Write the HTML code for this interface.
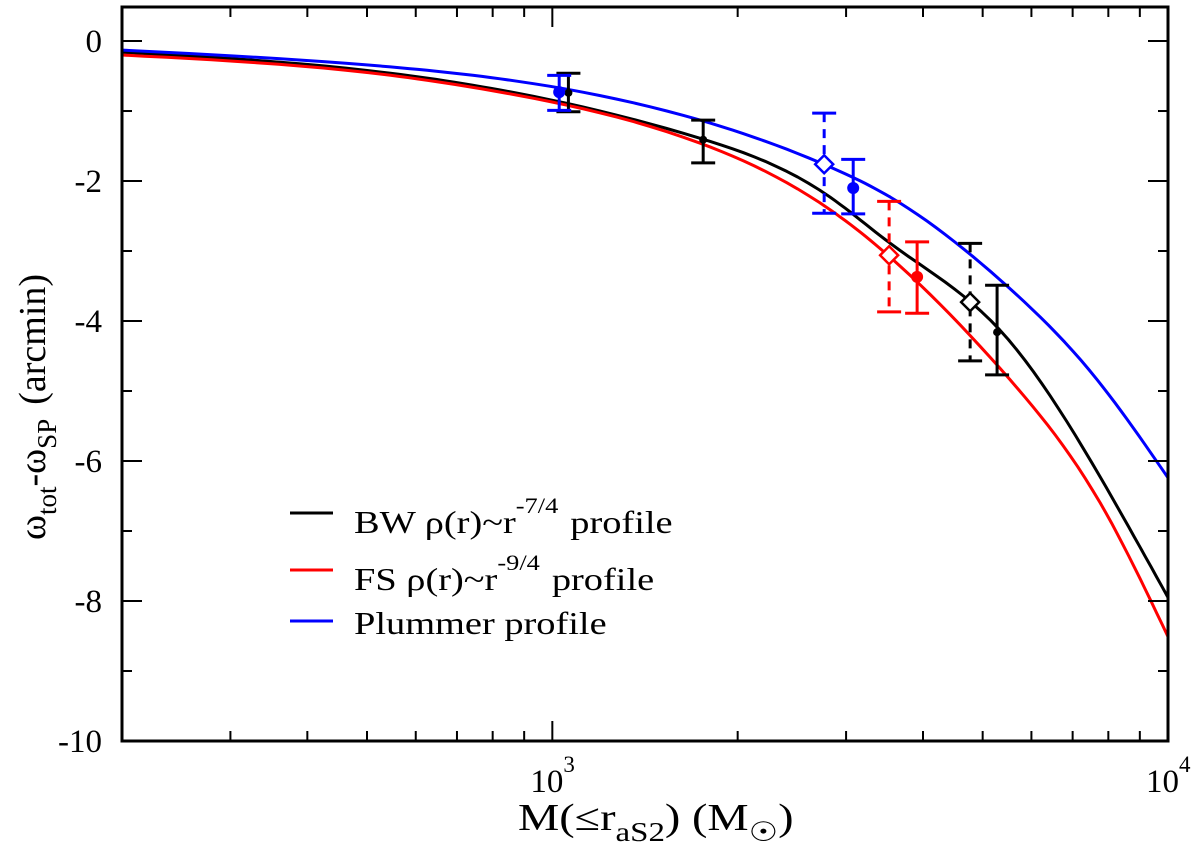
<!DOCTYPE html>
<html><head><meta charset="utf-8"><style>
html,body{margin:0;padding:0;background:#fff}
svg{display:block;font-family:"Liberation Serif","DejaVu Serif",serif}
</style></head><body>
<svg id="chart" width="1200" height="857" viewBox="0 0 1200 857" xmlns="http://www.w3.org/2000/svg">
<g id="curves"></g>
<g id="errs"></g>
<g id="axes"></g>
<g font-size="32">
 <g>
  <line x1="290" y1="513" x2="333" y2="513" stroke="#000" stroke-width="3"/>
  <text transform="translate(354,533) scale(1.2,1)">BW ρ(r)~r<tspan font-size="22" dy="-20">-7/4</tspan><tspan dy="20" dx="10">profile</tspan></text>
 </g>
 <g>
  <line x1="290" y1="570" x2="333" y2="570" stroke="#f00" stroke-width="3"/>
  <text transform="translate(354,590) scale(1.2,1)">FS ρ(r)~r<tspan font-size="22" dy="-20">-9/4</tspan><tspan dy="20" dx="10">profile</tspan></text>
 </g>
 <g>
  <line x1="290" y1="621" x2="333" y2="621" stroke="#00f" stroke-width="3"/>
  <text transform="translate(354,634) scale(1.2,1)">Plummer profile</text>
 </g>
</g>
<text transform="translate(518,830) scale(1.22,1)" font-size="38">M(≤r<tspan font-size="27" dy="11">aS2</tspan><tspan dy="-11">) (M</tspan><tspan font-size="27" dy="11">☉</tspan><tspan dy="-11">)</tspan></text>
<text transform="translate(45,407) rotate(-90)" text-anchor="middle" font-size="38">ω<tspan font-size="27" dy="11">tot</tspan><tspan dy="-11">-ω</tspan><tspan font-size="27" dy="11">SP</tspan><tspan dy="-11" dx="14">(arcmin)</tspan></text>
</svg>
<script>
const bwMass = [200, 546, 823, 1738, 2826, 3539, 5333, 7762, 10000];
const bwValues = [-0.16, -0.46, -0.70, -1.39, -2.23, -2.89, -4.13, -6.23, -7.95];
const fsMass = [200, 546, 823, 1738, 2826, 3539, 5540, 7762, 10000];
const fsValues = [-0.20, -0.49, -0.73, -1.46, -2.41, -3.09, -4.84, -6.6, -8.51];
const plummerMass = [200, 546, 823, 1738, 2826, 3539, 5333, 7674, 10000];
const plummerValues = [-0.13, -0.37, -0.54, -1.13, -1.80, -2.23, -3.41, -4.84, -6.24];
const errMass = [1062, 1026, 1758, 2764, 3081, 3524, 3913, 4771, 5277];
const errValue = [-0.74, -0.73, -1.41, -1.76, -2.10, -3.06, -3.37, -3.73, -4.16];
const errHigh = [-0.46, -0.49, -1.13, -1.03, -1.69, -2.29, -2.87, -2.89, -3.49];
const errLow = [-1.01, -0.99, -1.74, -2.46, -2.47, -3.87, -3.89, -4.57, -4.77];
const errColor = ['#000', '#00f', '#000', '#00f', '#00f', '#f00', '#f00', '#000', '#000'];
const errStyle = ['solid', 'solid', 'solid', 'dashed', 'solid', 'dashed', 'solid', 'dashed', 'solid'];
const yTicks = [0, -2, -4, -6, -8, -10];
const yTickLabels = ['0', '-2', '-4', '-6', '-8', '-10'];

const X0 = 122, X1 = 1168, Y0 = 7, Y1 = 741;
const xMin = Math.log10(200), xMax = 4;
const yTop = 0.486, yBot = -10;
function xs(m){ return X0 + (Math.log10(m) - xMin) / (xMax - xMin) * (X1 - X0); }
function ys(v){ return Y1 - (v - yBot) / (yTop - yBot) * (Y1 - Y0); }
const NS = 'http://www.w3.org/2000/svg';
function mk(tag, parent, attrs){ const e = document.createElementNS(NS, tag); for (const k in attrs) e.setAttribute(k, attrs[k]); parent.appendChild(e); return e; }

function splinePath(X, Y){
  const n = X.length, h = [], al = [], l = [1], mu = [0], z = [0], c = new Array(n).fill(0), b = [], d = [];
  for (let i = 0; i < n - 1; i++) h.push(X[i+1] - X[i]);
  for (let i = 1; i < n - 1; i++) al[i] = 3/h[i]*(Y[i+1]-Y[i]) - 3/h[i-1]*(Y[i]-Y[i-1]);
  for (let i = 1; i < n - 1; i++){ l[i] = 2*(X[i+1]-X[i-1]) - h[i-1]*mu[i-1]; mu[i] = h[i]/l[i]; z[i] = (al[i]-h[i-1]*z[i-1])/l[i]; }
  for (let j = n - 2; j >= 0; j--){ c[j] = (j > 0 ? z[j] - mu[j]*c[j+1] : 0); b[j] = (Y[j+1]-Y[j])/h[j] - h[j]*(c[j+1]+2*c[j])/3; d[j] = (c[j+1]-c[j])/(3*h[j]); }
  let p = 'M' + X[0].toFixed(1) + ',' + Y[0].toFixed(1);
  for (let j = 0; j < n - 1; j++){
    for (let s = 1; s <= 12; s++){
      const t = h[j]*s/12;
      p += ' L' + (X[j]+t).toFixed(1) + ',' + (Y[j] + b[j]*t + c[j]*t*t + d[j]*t*t*t).toFixed(1);
    }
  }
  return p;
}
const curves = document.getElementById('curves');
[[bwMass, bwValues, '#000', 'bw-curve'], [fsMass, fsValues, '#f00', 'fs-curve'], [plummerMass, plummerValues, '#00f', 'plummer-curve']].forEach(([ms, vals, col, name]) => {
  const path = mk('path', curves, {d: splinePath(ms.map(xs), vals.map(ys)), fill: 'none', stroke: col, 'stroke-width': 3, 'stroke-linejoin': 'round'});
  
  
});

const errs = document.getElementById('errs');
errMass.forEach((m, i) => {
  const g = mk('g', errs, {});
  
  
  const x = xs(m), c = errColor[i], dashed = errStyle[i] === 'dashed';
  const yh = ys(errHigh[i]), yl = ys(errLow[i]), yv = ys(errValue[i]);
  mk('line', g, {x1: x, y1: yh, x2: x, y2: yl, stroke: c, 'stroke-width': 3, 'stroke-dasharray': dashed ? '9,7' : 'none'});
  mk('line', g, {x1: x - 12, y1: yh, x2: x + 12, y2: yh, stroke: c, 'stroke-width': 3});
  mk('line', g, {x1: x - 12, y1: yl, x2: x + 12, y2: yl, stroke: c, 'stroke-width': 3});
  if (dashed) mk('path', g, {d: `M${x},${yv-9} L${x+9},${yv} L${x},${yv+9} L${x-9},${yv} Z`, fill: '#fff', stroke: c, 'stroke-width': 2.5});
  else mk('circle', g, {cx: x, cy: yv, r: c === '#000' ? 4 : 6, fill: c});
});

const ax = document.getElementById('axes');
mk('rect', ax, {x: X0, y: Y0, width: X1 - X0, height: Y1 - Y0, fill: 'none', stroke: '#000', 'stroke-width': 3});
yTicks.forEach((v, i) => {
  const y = ys(v);
  mk('line', ax, {x1: X0, y1: y, x2: X0 + 20, y2: y, stroke: '#000', 'stroke-width': 2});
  mk('line', ax, {x1: X1, y1: y, x2: X1 - 20, y2: y, stroke: '#000', 'stroke-width': 2});
  const t = mk('text', ax, {x: 102, y: y + 11, 'text-anchor': 'end', 'font-size': 33});
  t.textContent = yTickLabels[i];
  
  
  if (v > -10) {
    const ym = ys(v - 1);
    mk('line', ax, {x1: X0, y1: ym, x2: X0 + 10, y2: ym, stroke: '#000', 'stroke-width': 2});
    mk('line', ax, {x1: X1, y1: ym, x2: X1 - 10, y2: ym, stroke: '#000', 'stroke-width': 2});
  }
});
for (let m = 300; m < 10000; m += (m < 1000 ? 100 : 1000)) {
  const x = xs(m), major = m === 1000;
  const L = major ? 20 : 10;
  mk('line', ax, {x1: x, y1: Y1, x2: x, y2: Y1 - L, stroke: '#000', 'stroke-width': 2});
  mk('line', ax, {x1: x, y1: Y0, x2: x, y2: Y0 + L, stroke: '#000', 'stroke-width': 2});
}
[[1000, '3'], [10000, '4']].forEach(([m, e]) => {
  const t = mk('text', ax, {x: xs(m) - 22, y: 792, 'font-size': 33});
  t.innerHTML = '10<tspan font-size="23" dy="-20">' + e + '</tspan>';
  
  
});
</script>
</body></html>
